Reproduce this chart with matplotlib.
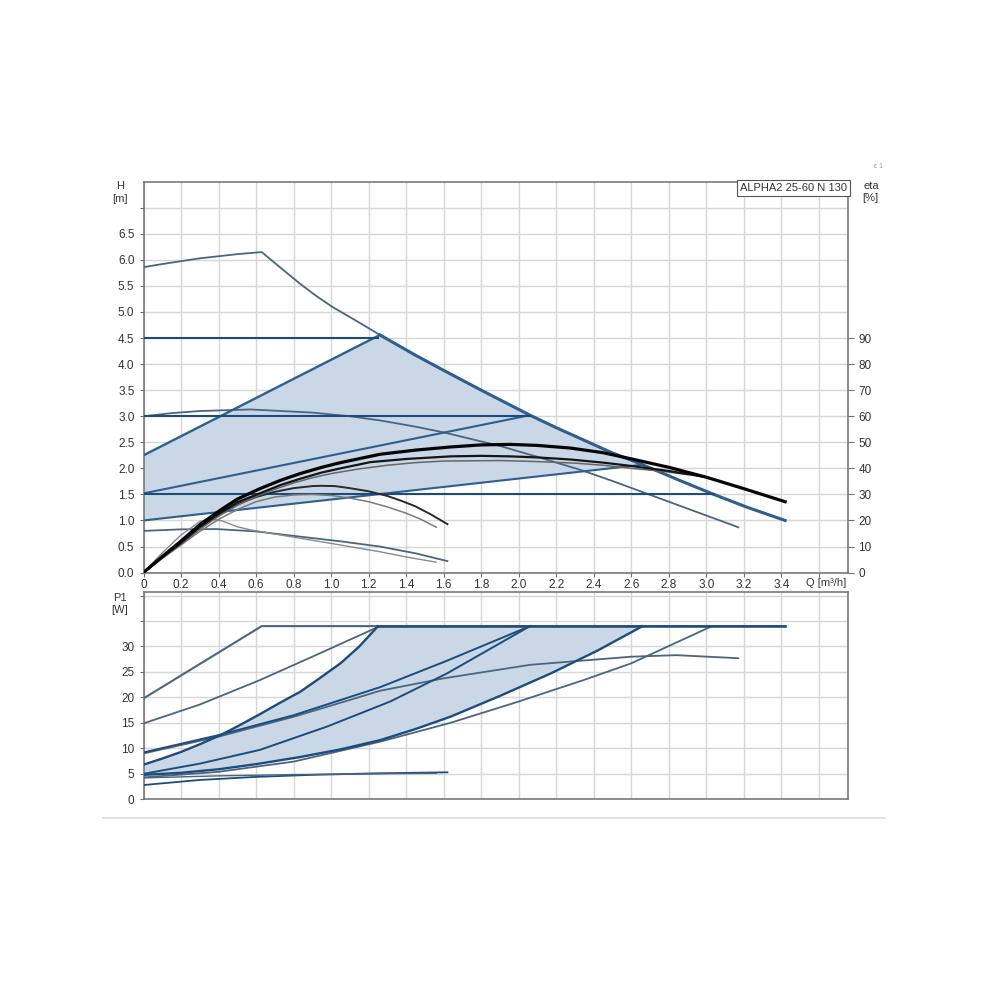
import numpy as np
import matplotlib
matplotlib.use("Agg")
import matplotlib.pyplot as plt

plt.rcParams['font.family'] = ['Liberation Sans', 'DejaVu Sans']

# ---------------- data: H(Q) plot ----------------
q_max = [0, 0.1, 0.3, 0.5, 0.63, 0.72, 0.835, 0.92, 1.01, 1.13, 1.26, 1.45, 1.6, 1.8,
         2.06, 2.2, 2.33, 2.49, 2.66, 2.85, 3.04, 3.22, 3.42]
h_max = [5.86, 5.92, 6.03, 6.11, 6.15, 5.88, 5.54, 5.31, 5.09, 4.84, 4.56, 4.17, 3.88, 3.5,
         3.02, 2.78, 2.57, 2.31, 2.07, 1.78, 1.5, 1.25, 1.0]

pp_up_q, pp_up_h = [0, 1.26], [2.25, 4.56]
pp_mid_q, pp_mid_h = [0, 2.06], [1.52, 3.02]
pp_low_q, pp_low_h = [0, 2.66], [1.0, 2.07]

cp_h = [4.5, 3.0, 1.5]
cp_qend = [1.25, 2.06, 3.04]

s3_q = [0, 0.15, 0.3, 0.57, 0.9, 1.1, 1.26, 1.45, 1.6, 1.9, 2.1, 2.33, 2.49, 2.8, 3.17]
s3_h = [3.0, 3.06, 3.1, 3.13, 3.07, 3.0, 2.92, 2.80, 2.69, 2.43, 2.22, 1.97, 1.77, 1.36, 0.87]

s1_q = [0, 0.2, 0.39, 0.6, 0.835, 1.05, 1.26, 1.45, 1.62]
s1_h = [0.8, 0.83, 0.835, 0.79, 0.69, 0.60, 0.5, 0.37, 0.22]

# efficiency curves (eta, %)
eta_a_q = [0, 0.1, 0.195, 0.3, 0.41, 0.5, 0.62, 0.73, 0.835, 0.95, 1.05, 1.26, 1.45, 1.635,
           1.8, 1.955, 2.1, 2.275, 2.45, 2.59, 2.8, 3.0, 3.2, 3.42]
eta_a = [0, 6.2, 11.8, 18.4, 24.0, 28.2, 32.2, 35.4, 38.0, 40.4, 42.2, 45.4, 47.0, 48.2,
         49.0, 49.2, 48.8, 47.8, 46.0, 43.8, 40.4, 36.6, 32.2, 27.2]
eta_b_q = [0, 0.1, 0.2, 0.3, 0.41, 0.5, 0.62, 0.73, 0.835, 0.95, 1.05, 1.21, 1.4, 1.635,
           1.8, 1.955, 2.1, 2.275, 2.45, 2.59, 2.8, 3.0]
eta_b = [0, 6.0, 11.4, 17.6, 23.0, 27.0, 30.4, 33.6, 36.0, 38.4, 40.0, 42.4, 43.6, 44.6,
         44.8, 44.6, 44.2, 43.4, 42.2, 41.0, 39.0, 36.6]
eta_c_q = [0, 0.1, 0.2, 0.3, 0.4, 0.5, 0.6, 0.7, 0.8, 0.9, 1.0, 1.15, 1.3, 1.45, 1.6,
           1.9, 2.1, 2.3, 2.45, 2.6, 2.75, 2.9]
eta_c = [0, 5.6, 11.0, 16.6, 21.6, 25.8, 29.2, 32.0, 34.4, 36.4, 38.0, 39.8, 41.2, 42.2, 42.8,
         43.0, 42.6, 42.0, 41.2, 40.0, 39.0, 37.6]
eta_d_q = [0, 0.1, 0.2, 0.3, 0.4, 0.5, 0.6, 0.7, 0.8, 0.9, 0.95, 1.02, 1.1, 1.2, 1.3,
           1.38, 1.45, 1.53, 1.62]
eta_d = [0, 5.8, 11.4, 17.2, 22.4, 26.2, 29.0, 31.0, 32.4, 33.2, 33.3, 33.2, 32.4, 31.2, 29.4,
         27.4, 25.4, 22.4, 18.6]
eta_e_q = [0, 0.1, 0.2, 0.3, 0.4, 0.5, 0.6, 0.7, 0.8, 0.9, 1.0, 1.1, 1.2, 1.3, 1.4, 1.48, 1.56]
eta_e = [0, 5.4, 10.6, 15.8, 20.4, 24.2, 27.2, 29.0, 29.8, 30.0, 29.6, 28.6, 27.2, 25.2, 22.8,
         20.4, 17.4]
eta_f_q = [0, 0.1, 0.2, 0.3, 0.36, 0.42, 0.5, 0.57, 0.7, 0.8, 0.9, 1.0, 1.13, 1.26, 1.4, 1.56]
eta_f = [0, 7.6, 14.4, 19.6, 20.6, 19.8, 17.6, 16.4, 14.8, 13.6, 12.4, 11.2, 9.6, 8.0, 6.0, 4.0]

# ---------------- data: P1(Q) plot ----------------
pmax_q = [0, 0.63, 3.42]
pmax_p = [19.8, 34, 34]
ps3l_q = [0, 0.3, 0.62, 0.9, 1.26]
ps3l_p = [14.9, 18.6, 23.4, 28.0, 34]
ppu_q = [0, 0.1, 0.2, 0.3, 0.41, 0.5, 0.62, 0.72, 0.835, 0.94, 1.05, 1.15, 1.25]
ppu_p = [6.8, 8.0, 9.3, 10.8, 12.6, 14.3, 16.7, 18.8, 21.1, 23.8, 26.7, 30.0, 34]
ppm_q = [0, 0.4, 0.8, 1.26, 1.617, 2.06]
ppm_p = [9.2, 12.6, 16.5, 22.0, 27.2, 34]
pcp3_q = [0, 0.3, 0.62, 0.98, 1.315, 1.617, 2.06]
pcp3_p = [5.0, 7.0, 9.7, 14.3, 19.2, 24.7, 34]
ps3_q = [0, 0.4, 0.8, 1.0, 1.26, 1.6, 2.06, 2.6, 2.84, 3.17]
ps3_p = [9.0, 12.3, 16.2, 18.4, 21.3, 23.75, 26.4, 28.0, 28.3, 27.7]
ppl_q = [0, 0.2, 0.4, 0.6, 0.835, 1.05, 1.26, 1.45, 1.635, 1.9, 2.17, 2.42, 2.66]
ppl_p = [4.8, 5.2, 5.9, 6.9, 8.3, 9.8, 11.6, 13.8, 16.2, 20.3, 24.7, 29.2, 34]
pcp15_q = [0, 0.4, 0.8, 1.26, 1.635, 2.0, 2.345, 2.6, 3.03]
pcp15_p = [4.3, 5.4, 7.4, 11.3, 15.0, 19.2, 23.4, 26.7, 34]
ps1_q = [0, 0.3, 0.6, 0.9, 1.24, 1.62]
ps1_p = [2.8, 3.8, 4.4, 4.8, 5.1, 5.3]
ps1b_q = [0, 0.4, 0.8, 1.2, 1.56]
ps1b_p = [4.2, 4.6, 4.85, 5.0, 5.1]

q_ticks = [round(0.2 * i, 1) for i in range(19)]
q_labels = ['0'] + ['%.1f' % v for v in q_ticks[1:18]] + ['']
h_ticks = [0.5 * i for i in range(15)]
h_labels = ['%.1f' % v for v in h_ticks[:14]] + ['']
eta_ticks = list(range(0, 100, 10))
p_ticks = list(range(0, 45, 5))
p_labels = [str(v) for v in p_ticks[:7]] + ['', '']

# ---------------- styling ----------------
FILL = '#cad7e6'
NAVY = '#1e4c7a'
BLUE = '#2e5f8f'
GREYBLUE = '#4a6580'
GRID = '#d6d6d6'
TXT = '#333333'
SPINE = '#6e6e6e'

fig = plt.figure(figsize=(10, 10), dpi=100)
ax1 = fig.add_axes([0.1435, 0.4274, 0.7045, 0.3909])
ax2 = fig.add_axes([0.1435, 0.2007, 0.7045, 0.2073])

for ax in (ax1, ax2):
    ax.set_xlim(0, 3.755)
    ax.set_xticks(q_ticks)
    ax.grid(True, color=GRID, lw=1.0, zorder=0)
    ax.set_axisbelow(True)
    for s in ax.spines.values():
        s.set_color(SPINE)
        s.set_linewidth(1.1)
    ax.tick_params(colors=SPINE, labelcolor=TXT, labelsize=8.5, length=3, width=0.8)

# ---- top plot ----
ax1.set_ylim(0, 7.5)
ax1.set_yticks(h_ticks)
ax1.set_yticklabels(h_labels)
ax1.set_xticklabels(q_labels)
ax1.tick_params(axis='x', pad=1.5)

# shaded region
qm = np.array(q_max)
hm = np.array(h_max)
sel = (qm > pp_up_q[1]) & (qm < pp_low_q[1])
poly_q = [pp_low_q[0], pp_up_q[0], pp_up_q[1]] + list(qm[sel]) + [pp_low_q[1]]
poly_h = [pp_low_h[0], pp_up_h[0], pp_up_h[1]] + list(hm[sel]) + [pp_low_h[1]]
ax1.fill(poly_q, poly_h, color=FILL, zorder=1, lw=0)

# max curve
ax1.plot(q_max, h_max, color=GREYBLUE, lw=1.3, zorder=3)
segm = qm >= pp_up_q[1]
ax1.plot(qm[segm], hm[segm], color=BLUE, lw=2.2, zorder=4)

# proportional pressure lines
ax1.plot(pp_up_q, pp_up_h, color=BLUE, lw=1.7, zorder=4)
ax1.plot(pp_mid_q, pp_mid_h, color=BLUE, lw=1.5, zorder=4)
ax1.plot(pp_low_q, pp_low_h, color=BLUE, lw=1.5, zorder=4)
# constant pressure lines
for h, qe in zip(cp_h, cp_qend):
    ax1.plot([0, qe], [h, h], color=NAVY, lw=1.5, zorder=4)

# constant curves
ax1.plot(s3_q, s3_h, color=GREYBLUE, lw=1.3, zorder=3)
ax1.plot(s1_q, s1_h, color=GREYBLUE, lw=1.3, zorder=3)

# efficiency
ax1r = ax1.twinx()
ax1r.set_ylim(0, 150)
ax1r.set_yticks(eta_ticks)
ax1r.tick_params(colors=SPINE, labelcolor=TXT, labelsize=8.5, length=4, width=0.8)
for s in ax1r.spines.values():
    s.set_visible(False)
ax1r.plot(eta_f_q, eta_f, color='#8a8a8a', lw=1.0, zorder=5)
ax1r.plot(eta_e_q, eta_e, color='#7a7a7a', lw=1.1, zorder=5)
ax1r.plot(eta_d_q, eta_d, color='#2a2a2a', lw=1.4, zorder=5)
ax1r.plot(eta_c_q, eta_c, color='#666666', lw=1.1, zorder=5)
ax1r.plot(eta_b_q, eta_b, color='#151515', lw=1.6, zorder=5)
ax1r.plot(eta_a_q, eta_a, color='#050505', lw=2.3, zorder=6)

# ---- bottom plot ----
ax2.set_ylim(0, 40.7)
ax2.set_yticks(p_ticks)
ax2.set_yticklabels(p_labels)
ax2.set_xticklabels([])
ax2.tick_params(axis='x', length=0)

pq = list(ppu_q) + [ppl_q[-1]] + list(ppl_q[::-1])
pp = list(ppu_p) + [ppl_p[-1]] + list(ppl_p[::-1])
ax2.fill(pq, pp, color=FILL, zorder=1, lw=0)

ax2.plot(pmax_q, pmax_p, color=GREYBLUE, lw=1.5, zorder=3)
ax2.plot([ppu_q[-1], pmax_q[-1]], [ppu_p[-1], pmax_p[-1]], color=NAVY, lw=1.8, zorder=4)
ax2.plot(ps3l_q, ps3l_p, color=GREYBLUE, lw=1.3, zorder=3)
ax2.plot(ppu_q, ppu_p, color=NAVY, lw=1.7, zorder=4)
ax2.plot(ppm_q, ppm_p, color=NAVY, lw=1.4, zorder=4)
ax2.plot(pcp3_q, pcp3_p, color=NAVY, lw=1.4, zorder=4)
ax2.plot(ps3_q, ps3_p, color=GREYBLUE, lw=1.3, zorder=3)
ax2.plot(ppl_q, ppl_p, color=NAVY, lw=1.7, zorder=4)
ax2.plot(pcp15_q, pcp15_p, color=GREYBLUE, lw=1.3, zorder=3)
ax2.plot(ps1_q, ps1_p, color=NAVY, lw=1.3, zorder=3)
ax2.plot(ps1b_q, ps1b_p, color=GREYBLUE, lw=1.0, zorder=3)


# ---- texts ----
def ftext(x, y, s, **kw):
    fig.text(x / 1000, 1 - y / 1000, s, color=TXT, fontsize=8, **kw)

ftext(120, 186, 'H', ha='center', va='center')
ftext(120, 199, '[m]', ha='center', va='center')
ftext(871, 186, 'eta', ha='center', va='center')
ftext(870, 198, '[%]', ha='center', va='center')
ftext(120, 598, 'P1', ha='center', va='center')
ftext(120, 610, '[W]', ha='center', va='center')
ftext(826, 583, 'Q [m³/h]', ha='center', va='center')
fig.text(879 / 1000, 1 - 167 / 1000, 'ε 1', color='#999999', fontsize=5,
         ha='center', va='center')
ax1.text(0.9985, 0.997, 'ALPHA2 25-60 N 130', transform=ax1.transAxes,
         ha='right', va='top', fontsize=8, color=TXT, zorder=10,
         bbox=dict(boxstyle='square,pad=0.25', fc='white', ec='#555555', lw=0.8))

# separator line
fig.add_artist(plt.Line2D([0.103, 0.885], [1 - 0.818, 1 - 0.818],
                          color='#dcdcdc', lw=1.2, transform=fig.transFigure))

fig.savefig('out.png', dpi=100, facecolor='white')
